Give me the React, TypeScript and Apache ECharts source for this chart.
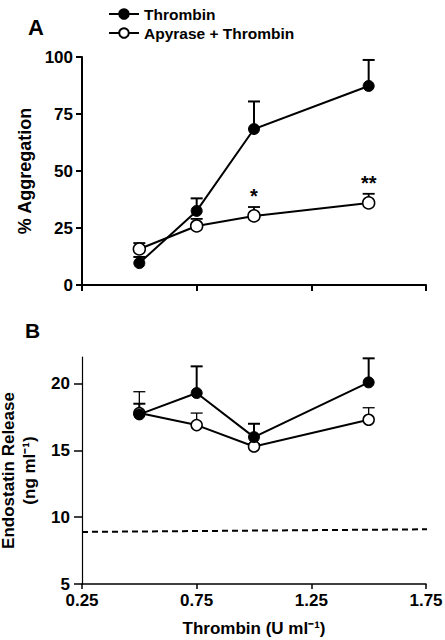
import React, { useEffect, useRef } from "react";
import * as echarts from "echarts";

const doses = [0.5, 0.75, 1.0, 1.5];
const aggThrombin = [9.6, 32.5, 68.4, 87.3];
const aggThrombinErr = [12.3, 38, 80.5, 98.7];
const aggApyrase = [15.8, 25.9, 30.3, 36];
const aggApyraseErr = [18.4, 29, 34.2, 40];
const starDoses = [1.0, 1.5];
const starTops = [34.2, 40];
const starTexts = ["*", "**"];

const endoThrombin = [17.7, 19.3, 16.0, 20.1];
const endoThrombinErr = [18.5, 21.3, 17.0, 21.9];
const endoApyrase = [17.8, 16.9, 15.3, 17.3];
const endoApyraseErr = [19.4, 17.8, 15.5, 18.2];

const baselineX = [0.25, 1.77];
const baselineY = [8.9, 9.1];

const xTicks = [0.25, 0.75, 1.25, 1.75];
const aggTicks = [0, 25, 50, 75, 100];
const endoTicks = [5, 10, 15, 20];

const FONT = "'Liberation Sans', Arial, Helvetica, sans-serif";

function errRender(lw: number) {
  return (params: any, api: any) => {
    const x = api.value(0);
    const y = api.value(1);
    const t = api.value(2);
    const p0 = api.coord([x, y]);
    const p1 = api.coord([x, t]);
    const st = { stroke: "#000", lineWidth: lw };
    return {
      type: "group",
      children: [
        { type: "line", shape: { x1: p0[0], y1: p0[1], x2: p1[0], y2: p1[1] }, style: st },
        { type: "line", shape: { x1: p1[0] - 6, y1: p1[1], x2: p1[0] + 6, y2: p1[1] }, style: st },
      ],
    };
  };
}

function zip3(a: number[], b: number[], c: number[]) {
  return a.map((v, i) => [v, b[i], c[i]]);
}
function zip2(a: number[], b: number[]) {
  return a.map((v, i) => [v, b[i]]);
}

export default function App() {
  const ref = useRef<HTMLDivElement>(null);
  useEffect(() => {
    if (!ref.current) return;
    const chart = echarts.init(ref.current, null, { renderer: "svg" });
    const axisLbl = { color: "#000", fontFamily: FONT, fontWeight: "bold", fontSize: 17 };
    const option: any = {
      animation: false,
      textStyle: { fontFamily: FONT, color: "#000" },
      title: [
        { text: "A", left: 23, top: 11, textStyle: { fontFamily: FONT, fontWeight: "bold", fontSize: 22, color: "#000" } },
        { text: "B", left: 20, top: 315, textStyle: { fontFamily: FONT, fontWeight: "bold", fontSize: 21, color: "#000" } },
      ],
      legend: {
        data: ["Thrombin", "Apyrase + Thrombin"],
        orient: "vertical",
        left: 103,
        top: 1,
        itemWidth: 30,
        itemHeight: 12,
        itemGap: 3,
        selectedMode: false,
        textStyle: { fontFamily: FONT, fontWeight: "bold", fontSize: 15.5, color: "#000" },
      },
      grid: [
        { left: 82, right: 19, top: 57, height: 228, outerBoundsMode: "none", containLabel: false },
        { left: 82, right: 19, top: 357, height: 227, outerBoundsMode: "none", containLabel: false },
      ],
      xAxis: [
        {
          gridIndex: 0,
          type: "value",
          min: 0.25,
          max: 1.75,
          interval: 0.5,
          axisLine: { lineStyle: { color: "#000", width: 2 } },
          axisTick: { length: 6, lineStyle: { color: "#000", width: 2 }, customValues: xTicks },
          axisLabel: { show: false },
          splitLine: { show: false },
        },
        {
          gridIndex: 1,
          type: "value",
          min: 0.25,
          max: 1.75,
          interval: 0.5,
          name: "Thrombin (U ml⁻¹)",
          nameLocation: "middle",
          nameGap: 36,
          nameTextStyle: { fontFamily: FONT, fontWeight: "bold", fontSize: 17, color: "#000", verticalAlign: "top" },
          axisLine: { lineStyle: { color: "#000", width: 1.5 } },
          axisTick: { length: 5, lineStyle: { color: "#000", width: 1.5 }, customValues: xTicks },
          axisLabel: { ...axisLbl, margin: 8, customValues: xTicks, formatter: (v: number) => v.toFixed(2) },
          splitLine: { show: false },
        },
      ],
      yAxis: [
        {
          gridIndex: 0,
          type: "value",
          min: 0,
          max: 100,
          interval: 25,
          name: "% Aggregation",
          nameLocation: "middle",
          nameGap: 45,
          nameTextStyle: { fontFamily: FONT, fontWeight: "bold", fontSize: 18, color: "#000" },
          axisLine: { lineStyle: { color: "#000", width: 2 } },
          axisTick: { length: 6, lineStyle: { color: "#000", width: 2 }, customValues: aggTicks },
          axisLabel: { ...axisLbl, margin: 9, customValues: aggTicks },
          splitLine: { show: false },
        },
        {
          gridIndex: 1,
          type: "value",
          min: 5,
          max: 22,
          name: "Endostatin Release\n(ng ml⁻¹)",
          nameLocation: "middle",
          nameGap: 38,
          nameTextStyle: { fontFamily: FONT, fontWeight: "bold", fontSize: 17, color: "#000", lineHeight: 21 },
          axisLine: { lineStyle: { color: "#000", width: 1.2 } },
          axisTick: { length: 8, lineStyle: { color: "#000", width: 1.5 }, customValues: endoTicks },
          axisLabel: { ...axisLbl, margin: 12, customValues: endoTicks },
          splitLine: { show: false },
        },
      ],
      series: [
        {
          type: "custom",
          name: "errA2",
          xAxisIndex: 0,
          yAxisIndex: 0,
          renderItem: errRender(1.8),
          encode: { x: 0, y: [1, 2] },
          data: zip3(doses, aggApyrase, aggApyraseErr),
          z: 1,
        },
        {
          type: "custom",
          name: "errA1",
          xAxisIndex: 0,
          yAxisIndex: 0,
          renderItem: errRender(2),
          encode: { x: 0, y: [1, 2] },
          data: zip3(doses, aggThrombin, aggThrombinErr),
          z: 1,
        },
        {
          type: "custom",
          name: "stars",
          xAxisIndex: 0,
          yAxisIndex: 0,
          renderItem: (params: any, api: any) => {
            const p = api.coord([api.value(0), api.value(1)]);
            return {
              type: "text",
              x: p[0],
              y: p[1] - 1,
              style: {
                text: starTexts[params.dataIndex],
                align: "center",
                verticalAlign: "bottom",
                fontFamily: FONT,
                fontWeight: "bold",
                fontSize: 20,
                fill: "#000",
              },
            };
          },
          encode: { x: 0, y: 1 },
          data: zip2(starDoses, starTops),
          z: 1,
        },
        {
          type: "line",
          name: "Apyrase + Thrombin",
          xAxisIndex: 0,
          yAxisIndex: 0,
          data: zip2(doses, aggApyrase),
          symbol: "circle",
          symbolSize: 12,
          lineStyle: { color: "#000", width: 2 },
          itemStyle: { color: "#fff", borderColor: "#000", borderWidth: 1.5 },
          z: 2,
        },
        {
          type: "line",
          name: "Thrombin",
          xAxisIndex: 0,
          yAxisIndex: 0,
          data: zip2(doses, aggThrombin),
          symbol: "circle",
          symbolSize: 11,
          lineStyle: { color: "#000", width: 2 },
          itemStyle: { color: "#000", borderColor: "#000", borderWidth: 1 },
          z: 3,
        },
        {
          type: "custom",
          name: "errB2",
          xAxisIndex: 1,
          yAxisIndex: 1,
          renderItem: errRender(1.3),
          encode: { x: 0, y: [1, 2] },
          data: zip3(doses, endoApyrase, endoApyraseErr),
          z: 1,
        },
        {
          type: "custom",
          name: "errB1",
          xAxisIndex: 1,
          yAxisIndex: 1,
          renderItem: errRender(2),
          encode: { x: 0, y: [1, 2] },
          data: zip3(doses, endoThrombin, endoThrombinErr),
          z: 1,
        },
        {
          type: "line",
          name: "baseline",
          xAxisIndex: 1,
          yAxisIndex: 1,
          data: zip2(baselineX, baselineY),
          symbol: "none",
          clip: false,
          lineStyle: { color: "#000", width: 2, type: [6, 4] },
          z: 1,
        },
        {
          type: "line",
          name: "Apyrase + Thrombin",
          xAxisIndex: 1,
          yAxisIndex: 1,
          data: zip2(doses, endoApyrase),
          symbol: "circle",
          symbolSize: 11,
          lineStyle: { color: "#000", width: 2 },
          itemStyle: { color: "#fff", borderColor: "#000", borderWidth: 1.5 },
          z: 2,
        },
        {
          type: "line",
          name: "Thrombin",
          xAxisIndex: 1,
          yAxisIndex: 1,
          data: zip2(doses, endoThrombin),
          symbol: "circle",
          symbolSize: 11,
          lineStyle: { color: "#000", width: 2 },
          itemStyle: { color: "#000", borderColor: "#000", borderWidth: 1 },
          z: 3,
        },
      ],
    };
    chart.setOption(option);
    return () => chart.dispose();
  }, []);
  return (
    <div
      ref={ref}
      style={{ position: "fixed", left: 0, top: 0, width: 445, height: 640, background: "#fff" }}
    />
  );
}
